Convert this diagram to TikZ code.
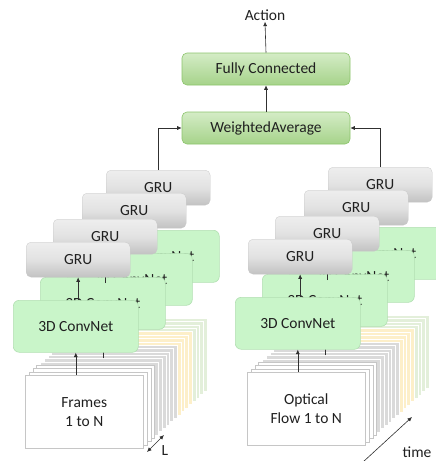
\documentclass[tikz,border=0pt]{standalone}
\usepackage{fontspec}
\setmainfont{Carlito}
\usetikzlibrary{arrows.meta}
\definecolor{txt}{HTML}{202020}
\definecolor{cnfill}{HTML}{C9F5C9}
\definecolor{cnedge}{HTML}{B2DFB2}
\definecolor{gruTop}{HTML}{EEEEEE}
\definecolor{gruMid}{HTML}{E2E2E2}
\definecolor{gruBot}{HTML}{C2C2C2}
\definecolor{topTop}{HTML}{D4ECC6}
\definecolor{topBot}{HTML}{A6D38A}
\definecolor{topEdge}{HTML}{8CC46C}
\definecolor{frGreen}{HTML}{E3EFDA}
\definecolor{frYellow}{HTML}{FDEFC9}
\definecolor{frGray}{HTML}{DADADA}
\definecolor{lineC}{HTML}{303030}
\tikzset{
  lbl/.style={text=txt, font=\fontsize{15.5}{19}\selectfont},
  cnbox/.style={lbl, rectangle, rounded corners=6pt, fill=cnfill, draw=cnedge, line width=0.6pt,
    minimum width=125pt, minimum height=52pt, anchor=north west, inner sep=0pt},
  grubox/.style={lbl, rectangle, rounded corners=5pt, top color=gruTop, bottom color=gruBot, middle color=gruMid,
    draw=gruBot!90, line width=0.3pt, minimum width=104pt, minimum height=35pt, anchor=north west, inner sep=0pt},
  topbox/.style={lbl, rectangle, rounded corners=5pt, top color=topTop, bottom color=topBot, draw=topEdge,
    line width=0.6pt, minimum width=168pt, minimum height=32pt, inner sep=0pt},
  framebox/.style={lbl, rectangle, minimum width=118pt, minimum height=73pt, anchor=north west, inner sep=0pt,
    line width=0.5pt, align=center},
  arr/.style={-{Latex[length=4.5pt,width=4pt]}, line width=0.6pt, draw=lineC},
  darr/.style={{Latex[length=4.5pt,width=4pt]}-{Latex[length=4.5pt,width=4pt]}, line width=0.6pt, draw=lineC},
}
\newcommand\drawstack[2]{%
  \foreach \i in {17,16,15,14} \node[framebox, fill=frGreen, draw=white] (#1f\i) at ({25+3.75*\i},{375-3.35*\i}) {};
  \foreach \i in {13,12,11,10} \node[framebox, fill=frYellow, draw=white] (#1f\i) at ({25+3.75*\i},{375-3.35*\i}) {};
  \foreach \i in {9,8,7,6,5,4} \node[framebox, fill=frGray, draw=white] (#1f\i) at ({25+3.75*\i},{375-3.35*\i}) {};
  \foreach \i in {3,2,1} \node[framebox, fill=white, draw=gray!45] (#1f\i) at ({25+3.75*\i},{375-3.35*\i}) {};
  \node[framebox, fill=white, draw=gray!45] (#1f0) at (25,375) {#2};
  \node[cnbox] (#1cn4) at (94,230) {3D ConvNet};
  \node[grubox] (#1gru4) at (106,170) {GRU};
  \node[grubox] (#1gru3) at (82,193) {GRU};
  \node[cnbox] (#1cn3) at (67,253) {3D ConvNet};
  \node[grubox] (#1gru2) at (53,219) {GRU};
  \node[cnbox] (#1cn2) at (40,277) {3D ConvNet};
  \draw[arr] (#1cn2.south |- #1f5.north) -- (#1cn2.south);
  \draw[arr] ([yshift=-6pt]#1cn2.north -| #1gru2.south) -- (#1gru2.south);
  \node[grubox] (#1gru1) at (26,242) {GRU};
  \node[cnbox] (#1cn1) at (13,300) {3D ConvNet};
  \draw[arr] (#1cn1.south |- #1f0.north) -- (#1cn1.south);
  \draw[arr] (#1gru1.south |- #1cn1.north) -- (#1gru1.south);
}
\begin{document}
\begin{tikzpicture}[x=1pt,y=-1pt]
  \useasboundingbox (0,0) rectangle (436,461);
  \begin{scope}
    \drawstack{l}{Frames\\1 to N}
  \end{scope}
  \begin{scope}[shift={(222,-3)}]
    \drawstack{r}{Optical\\Flow 1 to N}
  \end{scope}
  \node[topbox] (wa) at (266,128) {WeightedAverage};
  \node[topbox] (fc) at (266,69) {Fully Connected};
  \node[lbl, inner sep=1pt] (act) at (265,15) {Action};
  \draw[arr] (fc.north) -- (act.south);
  \draw[arr] (wa.north) -- (fc.south);
  \draw[arr] (lgru4.north) |- (wa.west);
  \draw[arr] (rgru4.north) |- (wa.east);
  \coordinate (la) at (147,452);
  \coordinate (lb) at (164,435);
  \draw[darr] (la) -- (lb);
  \node[lbl] (lL) at (165,451) {L};
  \coordinate (ta) at (363,462);
  \coordinate (tb) at (412,417);
  \draw[arr] (ta) -- (tb);
  \node[lbl] (lt) at (417,452) {time};
\end{tikzpicture}
\end{document}
